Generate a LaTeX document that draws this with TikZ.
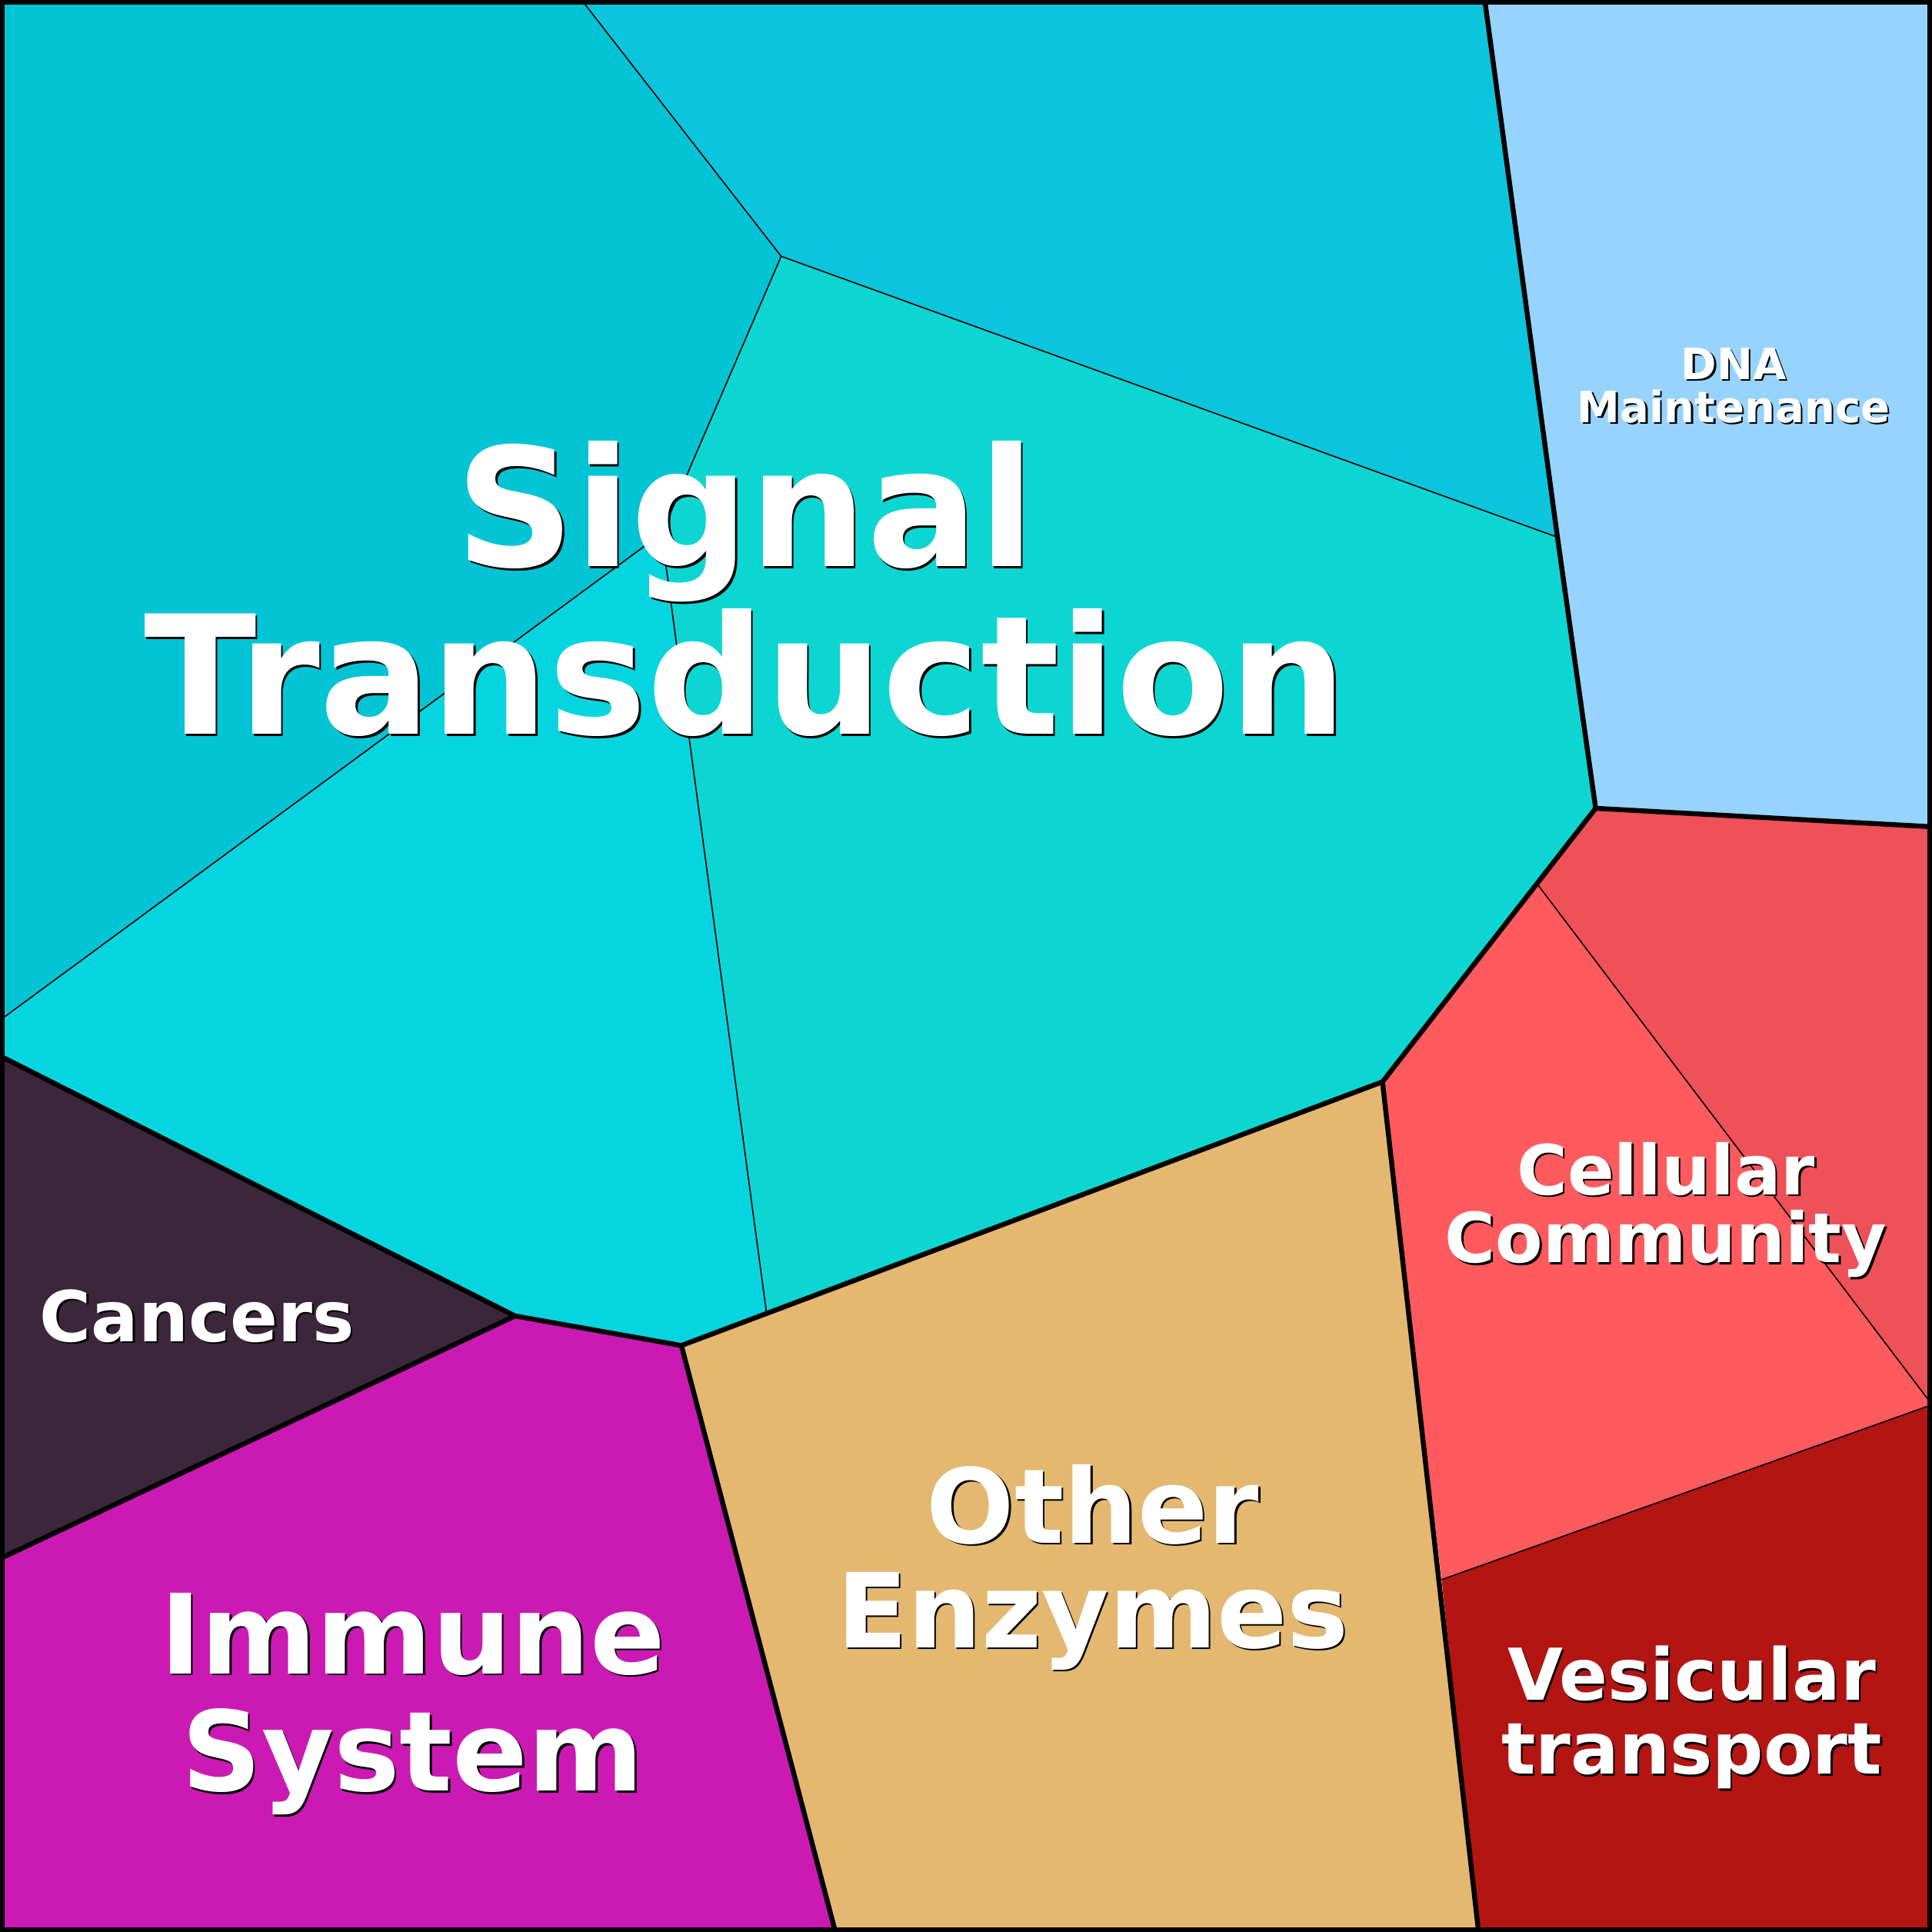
\documentclass[tikz,border=0pt]{standalone}
\usepackage{fontspec}
\setmainfont{DejaVu Sans}
\begin{document}
\begin{tikzpicture}[x=1pt,y=-1pt,
 thin line/.style={draw=black,line width=1pt},
 thick line/.style={draw=black,line width=4pt,line join=round},
 lbl/.style={align=center,text=white}]
\useasboundingbox (0,0) rectangle (1568,1568);
\coordinate (J) at (537,433);
\fill[fill={rgb,255:red,3;green,196;blue,212}] (0,0)--(472,0)--(634,208)--(J)--(0,828)--cycle;
\fill[fill={rgb,255:red,11;green,197;blue,220}] (472,0)--(1205,0)--(1264,436)--(634,208)--cycle;
\fill[fill={rgb,255:red,13;green,214;blue,210}] (634,208)--(1264,436)--(1295,656)--(1122,878)--(622,1065)--(J)--cycle;
\fill[fill={rgb,255:red,6;green,213;blue,223}] (0,828)--(J)--(622,1065)--(553,1092)--(418,1068)--(0,857)--cycle;
\fill[fill={rgb,255:red,150;green,212;blue,254}] (1205,0)--(1568,0)--(1568,671)--(1295,656)--(1264,436)--cycle;
\fill[fill={rgb,255:red,238;green,81;blue,88}] (1295,656)--(1568,671)--(1568,1140)--(1248,718)--cycle;
\fill[fill={rgb,255:red,255;green,91;blue,94}] (1248,718)--(1568,1140)--(1170,1282)--(1122,878)--cycle;
\fill[fill={rgb,255:red,179;green,21;blue,18}] (1170,1282)--(1568,1140)--(1568,1568)--(1200,1568)--cycle;
\fill[fill={rgb,255:red,228;green,184;blue,112}] (553,1092)--(622,1065)--(1122,878)--(1200,1568)--(678,1568)--cycle;
\fill[fill={rgb,255:red,203;green,26;blue,180}] (0,1265)--(418,1068)--(553,1092)--(678,1568)--(0,1568)--cycle;
\fill[fill={rgb,255:red,60;green,38;blue,59}] (0,857)--(418,1068)--(0,1265)--cycle;
% thin internal lines
\draw[thin line] (472,0)--(634,208)--(1264,436);
\draw[thin line] (634,208)--(J)--(0,828);
\draw[thin line] (J)--(622,1065);
\draw[thin line] (1248,718)--(1568,1140)--(1170,1282);
% thick group borders
\draw[thick line] (1205,0)--(1264,436)--(1295,656);
\draw[thick line] (0,857)--(418,1068)--(553,1092)--(1122,878)--(1295,656)--(1568,671);
\draw[thick line] (418,1068)--(0,1265);
\draw[thick line] (553,1092)--(678,1568);
\draw[thick line] (1122,878)--(1200,1568);
\draw[line width=8pt] (0,0) rectangle (1568,1568);
% labels with shadow
\foreach \t/\x/\y/\s/\b in {
 {Signal\\Transduction}/605/478/134/136,
 {DNA\\Maintenance}/1407/313/35/35,
 {Cellular\\Community}/1352/982/56/55,
 {Cancers}/160/1068/57/60,
 {Other\\Enzymes}/887/1272/84/85,
 {Immune\\System}/335/1383/90/95,
 {Vesicular\\transport}/1373/1394/58/60}{
 \node[lbl,text=black,font={\bfseries\fontsize{\s}{\b}\selectfont}] at (\x+1.5,\y+1.5) {\t};
 \node[lbl,font={\bfseries\fontsize{\s}{\b}\selectfont}] (n\x) at (\x,\y) {\t};
}
\end{tikzpicture}
\end{document}
